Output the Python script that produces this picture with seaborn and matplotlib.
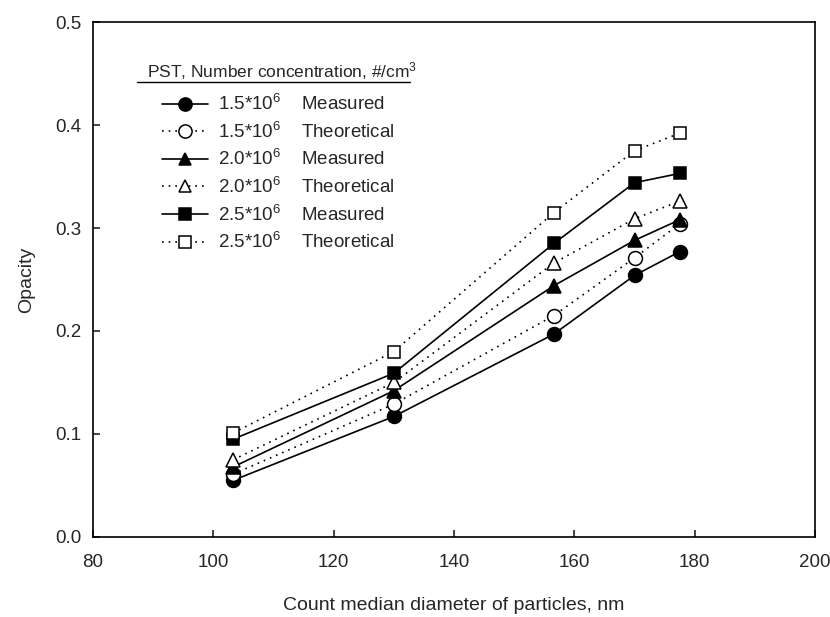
import pandas as pd
import numpy as np
import seaborn as sns
import matplotlib.pyplot as plt
from matplotlib.lines import Line2D

# Data.
diameter = [103.3, 130.0, 156.6, 170.0, 177.5]
concentrations = ['1.5', '2.0', '2.5']
measured_15 = [0.055, 0.117, 0.197, 0.254, 0.277]
theoretical_15 = [0.061, 0.129, 0.215, 0.271, 0.304]
measured_20 = [0.068, 0.142, 0.244, 0.288, 0.308]
theoretical_20 = [0.075, 0.150, 0.266, 0.309, 0.326]
measured_25 = [0.095, 0.159, 0.285, 0.344, 0.353]
theoretical_25 = [0.101, 0.180, 0.315, 0.375, 0.392]


def build_frame():
    rows = []
    series = {
        ('1.5', 'Measured'): measured_15,
        ('1.5', 'Theoretical'): theoretical_15,
        ('2.0', 'Measured'): measured_20,
        ('2.0', 'Theoretical'): theoretical_20,
        ('2.5', 'Measured'): measured_25,
        ('2.5', 'Theoretical'): theoretical_25,
    }
    for (conc, kind), values in series.items():
        for d, v in zip(diameter, values):
            rows.append({'diameter': d, 'opacity': v, 'conc': conc, 'kind': kind})
    return pd.DataFrame(rows)


def main():
    sns.set_style('ticks')
    plt.rcParams['font.family'] = ['Liberation Sans', 'DejaVu Sans']
    plt.rcParams['mathtext.fontset'] = 'custom'
    plt.rcParams['mathtext.rm'] = 'Liberation Sans'
    plt.rcParams['mathtext.it'] = 'Liberation Sans'

    df = build_frame()
    fig = plt.figure(figsize=(8.3, 6.17), dpi=100)
    ax = fig.add_axes([0.112, 0.1297, 0.870, 0.8346])

    markers = {'1.5': 'o', '2.0': '^', '2.5': 's'}
    sizes = {'1.5': 10, '2.0': 9.5, '2.5': 9}
    handles, labels = [], []
    for conc in concentrations:
        for kind in ['Measured', 'Theoretical']:
            sub = df[(df['conc'] == conc) & (df['kind'] == kind)]
            face = 'black' if kind == 'Measured' else 'white'
            ls = '-' if kind == 'Measured' else (0, (1, 3))
            ms = sizes[conc]
            sns.lineplot(data=sub, x='diameter', y='opacity', ax=ax, color='black',
                         linestyle=ls, linewidth=1.2, marker=markers[conc],
                         markersize=ms, markerfacecolor=face, markeredgecolor='black',
                         markeredgewidth=1.1, legend=False, zorder=3)
            handles.append(Line2D([], [], color='black', linestyle=ls, linewidth=1.2,
                                  marker=markers[conc], markersize=ms * 0.95,
                                  markerfacecolor=face, markeredgecolor='black',
                                  markeredgewidth=1.1))
            labels.append(conc + r'*10$^{6}$    ' + kind)

    ax.set_xlim(80, 200)
    ax.set_ylim(0, 0.5)
    ax.set_xticks(np.arange(80, 201, 20))
    ax.set_yticks(np.arange(0, 0.51, 0.1))
    ax.set_yticklabels(['0.0', '0.1', '0.2', '0.3', '0.4', '0.5'])
    ax.tick_params(direction='in', length=5, width=1.2, labelsize=13.5)
    ax.tick_params(axis='x', pad=12)
    ax.tick_params(axis='y', pad=8)
    for spine in ax.spines.values():
        spine.set_linewidth(1.2)
        spine.set_color('black')
    ax.set_xlabel('Count median diameter of particles, nm', fontsize=14, labelpad=19)
    ax.set_ylabel('Opacity', fontsize=14, labelpad=15)

    # Legend title with underline.
    ax.text(0.075, 0.893, r'PST, Number concentration, #/cm$^{3}$', transform=ax.transAxes,
            fontsize=12.5, ha='left', va='baseline')
    ax.plot([0.061, 0.439], [0.884, 0.884], transform=ax.transAxes, color='black',
            linewidth=1.0, clip_on=False)

    ax.legend(handles, labels, loc='upper left', bbox_to_anchor=(0.0956, 0.860),
              frameon=False, fontsize=13.5, handlelength=2.45, handletextpad=0.55,
              labelspacing=0.40, borderaxespad=0, borderpad=0)

    fig.savefig('out.png', dpi=100)


if __name__ == '__main__':
    main()
